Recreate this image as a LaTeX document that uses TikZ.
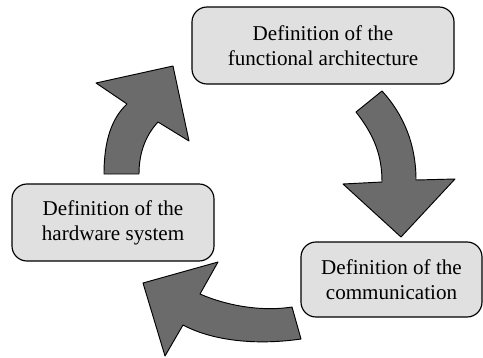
\documentclass[tikz,border=0pt]{standalone}
\usepackage{fontspec}
\setmainfont{Liberation Serif}
\definecolor{boxgray}{HTML}{E0E0E0}
\definecolor{arrowgray}{HTML}{6B6B6B}
\begin{document}
\begin{tikzpicture}[
  x=0.03cm, y=-0.03cm,
  box/.style={draw, line width=1pt, rounded corners=0.45cm, fill=boxgray, align=center, inner sep=0pt, font=\fontsize{18}{21.5}\selectfont},
  bigarrow/.style={draw, line width=0.8pt, fill=arrowgray, line join=round}
]
\useasboundingbox (0,0) rectangle (483,357);
\node[box, minimum width=7.86cm, minimum height=2.31cm] (func) at (323,45.5) {Definition of the\\functional architecture};
\node[box, minimum width=6.06cm, minimum height=2.31cm] (hw) at (113,222.5) {Definition of the\\hardware system};
\node[box, minimum width=5.43cm, minimum height=2.25cm] (comm) at (391.5,279.5) {Definition of the\\communication};
% hardware -> functional
\draw[bigarrow] (104,174) .. controls (104,140) and (112,118) .. (127,104) -- (96,83) -- (173,66) -- (189,141) -- (158,122) .. controls (146,135) and (139,152) .. (139,174) -- cycle;
% functional -> communication
\draw[bigarrow] (382,91) .. controls (404,115) and (416,145) .. (416,180) -- (455,179) -- (401,237) -- (343,184) -- (382,182) .. controls (382,155) and (374,135) .. (356,112) -- cycle;
% communication -> hardware
\draw[bigarrow] (301,339) .. controls (260,345) and (215,342) .. (183,325) -- (165,356) -- (143,283) -- (218,262) -- (200,294) .. controls (225,305) and (260,312) .. (292,307) -- cycle;
\end{tikzpicture}
\end{document}
